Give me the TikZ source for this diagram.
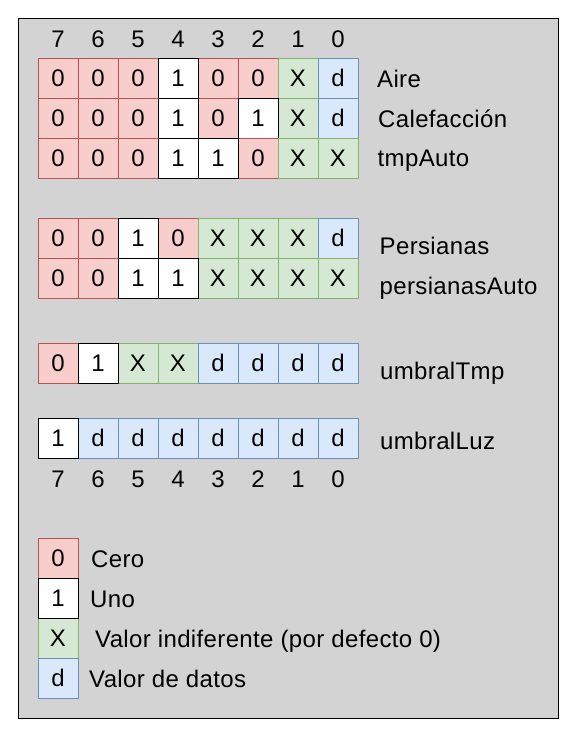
\documentclass[tikz,border=0pt]{standalone}
\usepackage{fontspec}
\setmainfont{Liberation Sans}[LetterSpace=1.5]
\definecolor{bgG}{HTML}{D3D3D3}
\definecolor{redF}{HTML}{F8CECC}
\definecolor{redD}{HTML}{B85450}
\definecolor{grnF}{HTML}{D5E8D4}
\definecolor{grnD}{HTML}{82B366}
\definecolor{bluF}{HTML}{DAE8FC}
\definecolor{bluD}{HTML}{6C8EBF}
\newcommand\bitrow[3]{%
  \foreach \v [count=\i from 0] in {#3} {\if1\v\else\node[v\v] (#1\i) at ({38+40*\i},#2) {\v};\fi}%
  \foreach \v [count=\i from 0] in {#3} {\if1\v\node[v\v] (#1\i) at ({38+40*\i},#2) {\v};\fi}%
}
\begin{document}
\begin{tikzpicture}[x=1pt,y=-1pt,
  txt/.style={font=\fontsize{24}{28}\selectfont, text=black},
  cell/.style={txt, minimum width=40pt, minimum height=40pt, inner sep=0pt, outer sep=0pt, line width=1pt, anchor=north west},
  v0/.style={cell, fill=redF, draw=redD},
  v1/.style={cell, fill=white, draw=black},
  vX/.style={cell, fill=grnF, draw=grnD},
  vd/.style={cell, fill=bluF, draw=bluD},
  lbl/.style={txt, anchor=base west, inner sep=0pt},
  num/.style={txt, anchor=base, inner sep=0pt}]
\useasboundingbox (0,0) rectangle (571,731);
\node[draw=black, fill=bgG, line width=1pt, minimum width=540pt, minimum height=700pt, inner sep=0pt, anchor=north west] (bg) at (18,18) {};
% bit numbers
\foreach \n [count=\i from 0] in {7,6,5,4,3,2,1,0} {
  \node[num] (top\i) at ({58+40*\i},47.7) {\n};
  \node[num] (bot\i) at ({58+40*\i},487) {\n};
}
% rows
\bitrow{aire}{58}{0,0,0,1,0,0,X,d}
\bitrow{cale}{98}{0,0,0,1,0,1,X,d}
\bitrow{tmpa}{138}{0,0,0,1,1,0,X,X}
\bitrow{pers}{218}{0,0,1,0,X,X,X,d}
\bitrow{pera}{258}{0,0,1,1,X,X,X,X}
\bitrow{umbt}{343}{0,1,X,X,d,d,d,d}
\bitrow{umbl}{418}{1,d,d,d,d,d,d,d}
% row labels
\node[lbl] (laire) at (377,87.3) {Aire};
\node[lbl] (lcale) at (378,127.5) {Calefacción};
\node[lbl] (ltmpa) at (377.5,166.7) {tmpAuto};
\node[lbl] (lpers) at (379.5,254) {Persianas};
\node[lbl] (lpera) at (379.5,294) {persianasAuto};
\node[lbl] (lumbt) at (380,379) {umbralTmp};
\node[lbl] (lumbl) at (380,449) {umbralLuz};
% legend
\node[v0] (g0) at (38,538) {0};
\node[vX] (gX) at (38,618) {X};
\node[vd] (gd) at (38,658) {d};
\node[v1] (g1) at (38,578) {1};
\node[lbl] (lg0) at (91,567.3) {Cero};
\node[lbl] (lg1) at (90,607) {Uno};
\node[lbl] (lgX) at (95,647) {Valor indiferente (por defecto 0)};
\node[lbl] (lgd) at (89,687) {Valor de datos};
\end{tikzpicture}
\end{document}
